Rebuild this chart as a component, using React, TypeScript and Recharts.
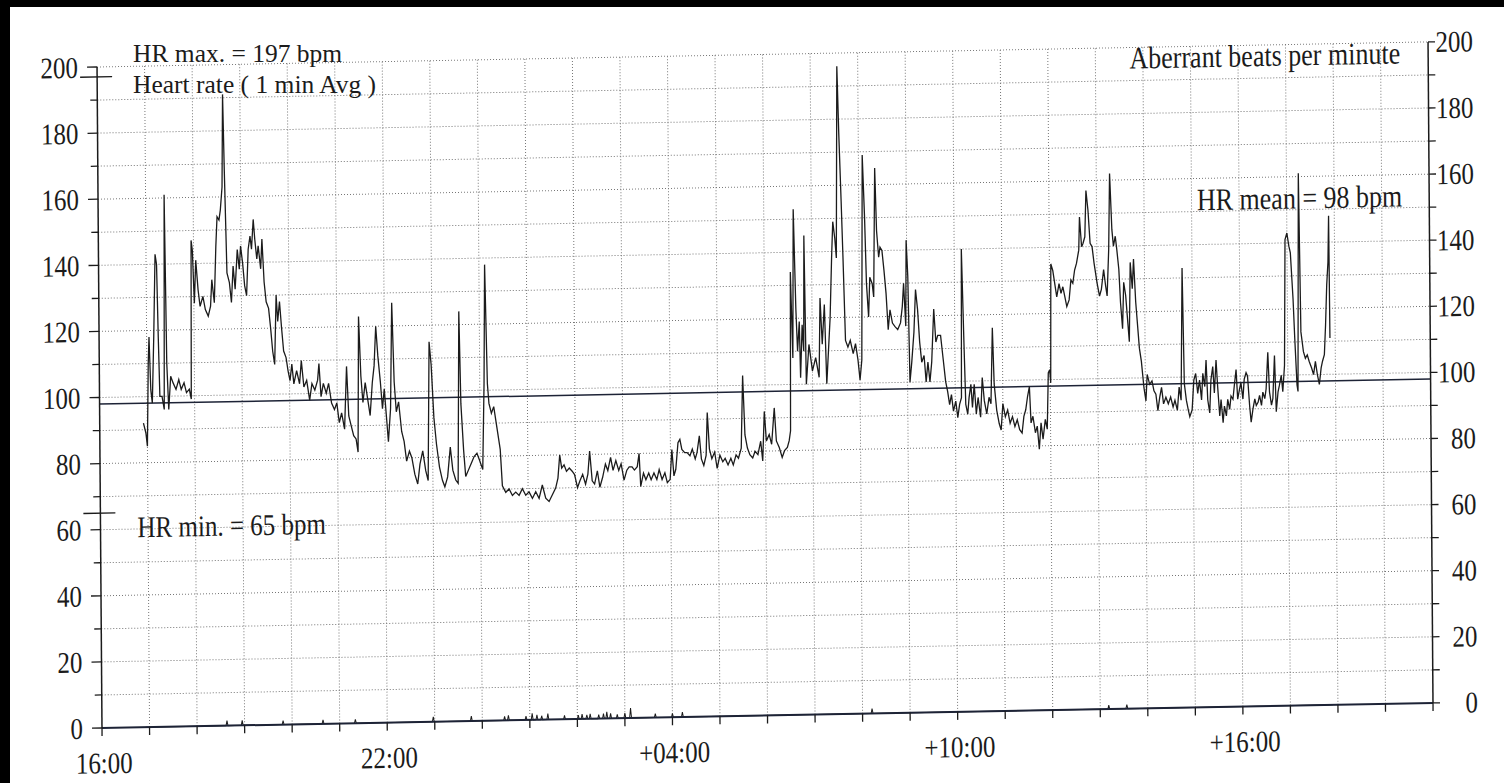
import React from 'react'
import { LineChart, Line, XAxis, YAxis, CartesianGrid, ReferenceLine } from 'recharts'

// time axis is in hours after 16:00 (0 = 16:00, 28 = +20:00)
const eveningHours = [
    0.92, 0.97, 1.0, 1.03, 1.05, 1.08, 1.11, 1.15, 1.19, 1.22,
    1.245, 1.27, 1.315, 1.36, 1.39, 1.42, 1.455, 1.5, 1.55, 1.61,
    1.67, 1.72, 1.78, 1.83, 1.89, 1.93, 1.95, 1.975, 2.01, 2.045,
    2.09, 2.13, 2.19, 2.24, 2.3, 2.35, 2.38, 2.43, 2.47, 2.5,
    2.54, 2.57, 2.61, 2.635, 2.66, 2.7, 2.75, 2.79, 2.83, 2.87,
    2.92, 2.96, 2.99, 3.03, 3.07, 3.11, 3.15, 3.19, 3.22, 3.26,
    3.29, 3.33, 3.36, 3.41, 3.44, 3.48, 3.52, 3.57, 3.61, 3.65,
    3.69, 3.73, 3.76, 3.8, 3.84, 3.88, 3.93, 3.97, 4.01, 4.05,
    4.09, 4.15, 4.21, 4.25, 4.3, 4.36, 4.42, 4.47, 4.53, 4.59,
    4.62, 4.66, 4.71, 4.77, 4.82, 4.88, 4.94, 4.99, 5.04, 5.09,
    5.15, 5.2, 5.24, 5.29, 5.34, 5.39, 5.43, 5.46, 5.5, 5.54,
    5.59, 5.65, 5.69, 5.74, 5.78, 5.82, 5.86, 5.91, 5.95, 5.99,
    6.03, 6.07, 6.12, 6.16, 6.2, 6.24, 6.29, 6.35, 6.4, 6.45,
    6.51, 6.56, 6.62, 6.68, 6.73, 6.79, 6.85, 6.9, 6.94, 6.98,
    7.03, 7.08, 7.14, 7.2, 7.25, 7.31, 7.37, 7.42, 7.48, 7.53,
    7.57, 7.6, 7.65, 7.69, 7.75, 7.81, 7.87, 7.93, 7.98, 8.05,
    8.09, 8.12, 8.16, 8.19, 8.24, 8.29, 8.36, 8.42,
]
const eveningBpm = [
    92, 89, 85, 110, 118, 102, 98, 118, 143, 140,
    118, 100, 100, 96, 161, 110, 96, 106, 104, 102,
    105, 102, 104, 101, 102, 99, 147, 144, 128, 141,
    132, 127, 130, 126, 124, 127, 135, 128, 145, 154,
    153, 156, 163, 191, 168, 137, 134, 128, 139, 132,
    144, 138, 145, 140, 133, 130, 144, 148, 144, 153,
    147, 141, 145, 138, 147, 134, 128, 126, 120, 113,
    109, 130, 122, 128, 120, 113, 111, 107, 104, 109,
    103, 107, 103, 110, 102, 104, 98, 103, 101, 104,
    109, 99, 103, 100, 103, 97, 95, 97, 91, 94,
    89, 108, 93, 90, 87, 86, 82, 123, 105, 97,
    103, 97, 93, 103, 108, 120, 111, 103, 95, 101,
    93, 85, 95, 127, 103, 94, 97, 88, 85, 79,
    82, 80, 75, 72, 78, 82, 76, 73, 115, 108,
    92, 84, 77, 73, 71, 74, 83, 76, 73, 72,
    124, 96, 82, 74, 76, 78, 80, 81, 79, 76,
    102, 138, 102, 96, 93, 95, 88, 82,
]

const nightHours = [
    8.46, 8.53, 8.6, 8.67, 8.74, 8.81, 8.88, 8.95, 9.02, 9.09,
    9.16, 9.23, 9.3, 9.37, 9.44, 9.51, 9.58, 9.63, 9.67, 9.71,
    9.76, 9.81, 9.87, 9.93, 9.98, 10.04, 10.09, 10.15, 10.21, 10.26,
    10.3, 10.35, 10.4, 10.46, 10.51, 10.57, 10.63, 10.68, 10.74, 10.79,
    10.85, 10.91, 10.96, 11.02, 11.08, 11.13, 11.19, 11.24, 11.3, 11.34,
    11.37, 11.43, 11.48, 11.54, 11.59, 11.65, 11.71, 11.76, 11.82, 11.88,
    11.93, 11.99, 12.03, 12.07, 12.11, 12.16, 12.2, 12.24, 12.3, 12.35,
    12.41, 12.46, 12.52, 12.56, 12.61, 12.65, 12.7, 12.75, 12.78, 12.82,
    12.87, 12.93, 12.98, 13.04, 13.1, 13.15, 13.21, 13.27, 13.32, 13.38,
    13.43, 13.49, 13.53, 13.57, 13.62, 13.67, 13.73, 13.78, 13.84, 13.9,
    13.94, 13.98, 14.02, 14.08, 14.13, 14.19, 14.23, 14.29, 14.35, 14.4,
    14.46, 14.5, 14.53, 14.55, 14.57, 14.59, 14.62, 14.66, 14.69, 14.73,
]
const nightBpm = [
    71, 69, 70, 68, 69, 68, 70, 68, 69, 67,
    69, 67, 71, 67, 66, 68, 70, 73, 80, 76,
    77, 75, 76, 75, 74, 70, 72, 74, 71, 74,
    81, 72, 71, 75, 70, 73, 77, 75, 79, 75,
    78, 75, 77, 72, 75, 76, 76, 75, 76, 80,
    70, 74, 72, 74, 72, 74, 72, 75, 72, 74,
    71, 72, 81, 73, 75, 83, 84, 81, 80, 80,
    79, 81, 78, 80, 85, 78, 76, 79, 92, 81,
    78, 80, 75, 79, 77, 78, 76, 78, 76, 79,
    78, 81, 103, 85, 81, 79, 78, 80, 79, 83,
    77, 92, 83, 85, 82, 93, 83, 81, 78, 80,
    81, 83, 86, 134, 121, 108, 153, 123, 110, 119,
]

const morningHours = [
    14.75, 14.79, 14.82, 14.84, 14.87, 14.93, 15.0, 15.07, 15.14, 15.17,
    15.21, 15.26, 15.3, 15.34, 15.38, 15.42, 15.45, 15.49, 15.52, 15.56,
    15.59, 15.63, 15.66, 15.7, 15.75, 15.8, 15.86, 15.91, 15.96, 16.0,
    16.04, 16.08, 16.12, 16.15, 16.19, 16.22, 16.27, 16.3, 16.34, 16.37,
    16.41, 16.44, 16.48, 16.52, 16.56, 16.6, 16.64, 16.69, 16.74, 16.8,
    16.86, 16.9, 16.93, 16.97, 16.99, 17.02, 17.05, 17.09, 17.14, 17.18,
    17.22, 17.26, 17.3, 17.35, 17.39, 17.43, 17.47, 17.51, 17.56, 17.6,
    17.64, 17.7, 17.75, 17.8, 17.84, 17.88, 17.92, 17.96, 18.01, 18.05,
    18.09, 18.13, 18.15, 18.19, 18.22, 18.26, 18.29, 18.33, 18.36, 18.4,
    18.44, 18.48, 18.53, 18.57, 18.61, 18.66, 18.71, 18.75, 18.79, 18.82,
    18.87, 18.92, 18.96, 19.0, 19.05, 19.1, 19.15, 19.2, 19.25, 19.3,
    19.35, 19.4, 19.44, 19.48, 19.52, 19.56, 19.59, 19.63, 19.68, 19.72,
    19.76, 19.8, 19.84, 19.89, 19.93, 19.96, 19.99, 20.01, 20.03, 20.07,
    20.11, 20.15, 20.2, 20.24, 20.28, 20.32, 20.36, 20.41, 20.45, 20.49,
    20.53, 20.57, 20.62, 20.64, 20.68, 20.71, 20.75, 20.78, 20.82, 20.86,
    20.9, 20.94, 21.0, 21.05, 21.09, 21.14, 21.18, 21.21, 21.25, 21.28,
    21.32, 21.35, 21.39, 21.42, 21.46, 21.49, 21.53, 21.56, 21.6, 21.63,
    21.67, 21.7, 21.74, 21.77, 21.81, 21.84, 21.88, 21.92,
]
const morningBpm = [
    102, 118, 110, 145, 100, 112, 104, 108, 102, 126,
    112, 124, 100, 110, 120, 138, 149, 144, 138, 196,
    176, 155, 138, 113, 111, 113, 109, 112, 107, 101,
    107, 169, 150, 130, 120, 132, 130, 126, 165, 146,
    138, 141, 140, 134, 127, 116, 122, 118, 117, 116,
    118, 123, 130, 117, 143, 132, 100, 106, 115, 128,
    122, 112, 106, 108, 100, 106, 100, 106, 122, 112,
    114, 114, 107, 100, 97, 93, 96, 91, 94, 89,
    93, 95, 140, 112, 93, 90, 95, 99, 92, 99,
    90, 95, 89, 101, 94, 90, 95, 93, 116, 99,
    91, 87, 85, 93, 89, 91, 87, 89, 86, 88,
    85, 84, 89, 91, 95, 98, 87, 89, 84, 86,
    79, 87, 82, 88, 85, 102, 103, 99, 135, 133,
    129, 125, 129, 126, 128, 125, 122, 124, 130, 129,
    133, 135, 139, 149, 140, 141, 143, 157, 151, 141,
    140, 135, 129, 125, 127, 133, 128, 125, 139, 162,
    145, 140, 143, 139, 133, 123, 115, 129, 125, 119,
    111, 135, 127, 136, 123, 117, 109, 105,
]

const afternoonHours = [
    21.97, 22.01, 22.04, 22.09, 22.14, 22.18, 22.22, 22.26, 22.3, 22.34,
    22.38, 22.43, 22.48, 22.53, 22.58, 22.62, 22.67, 22.71, 22.75, 22.79,
    22.82, 22.86, 22.9, 22.93, 22.98, 23.02, 23.06, 23.1, 23.14, 23.18,
    23.21, 23.25, 23.28, 23.31, 23.35, 23.38, 23.42, 23.45, 23.49, 23.52,
    23.56, 23.59, 23.63, 23.66, 23.7, 23.73, 23.77, 23.8, 23.84, 23.87,
    23.91, 23.94, 23.98, 24.01, 24.05, 24.08, 24.12, 24.15, 24.19, 24.22,
    24.26, 24.3, 24.33, 24.37, 24.4, 24.44, 24.47, 24.51, 24.54, 24.58,
    24.61, 24.65, 24.68, 24.72, 24.75, 24.79, 24.82, 24.86, 24.89, 24.93,
    24.96, 25.0, 25.04, 25.07, 25.12, 25.15, 25.19, 25.21, 25.25, 25.28,
    25.33, 25.37, 25.41, 25.45, 25.5, 25.54, 25.58, 25.62, 25.66, 25.7,
    25.73, 25.77, 25.8, 25.83, 25.86, 25.88, 25.89,
]
const afternoonBpm = [
    97, 93, 101, 98, 99, 96, 95, 90, 94, 97,
    92, 94, 92, 94, 91, 93, 90, 97, 93, 133,
    98, 93, 90, 88, 90, 99, 101, 95, 99, 93,
    101, 97, 105, 93, 89, 99, 103, 95, 105, 97,
    88, 93, 86, 91, 88, 93, 90, 94, 93, 97,
    102, 93, 96, 98, 93, 99, 101, 100, 91, 86,
    90, 93, 91, 92, 94, 91, 95, 93, 96, 107,
    95, 91, 93, 106, 89, 95, 97, 100, 95, 103,
    141, 143, 139, 137, 123, 111, 97, 95, 161, 113,
    107, 105, 106, 104, 102, 100, 104, 100, 97, 102,
    104, 106, 115, 127, 134, 148, 111,
]

// aberrant beats per minute (right axis), small spikes off the baseline
const aberrantHours = [
    2.63, 2.95, 3.81, 4.65, 5.33, 6.97, 7.77, 8.47, 8.55, 8.92,
    9.05, 9.15, 9.25, 9.38, 9.73, 10.02, 10.1, 10.2, 10.27, 10.45,
    10.55, 10.62, 10.7, 10.84, 11.0, 11.12, 11.64, 12.0, 12.21, 16.2,
    21.18, 21.56,
]
const aberrantCounts = [
    1.5, 1.5, 1.2, 1.2, 1.2, 1.5, 1.5, 1.2, 1.5, 1.2,
    2, 1.5, 1.2, 1.8, 1.2, 1.2, 1.5, 1.2, 1.5, 1.2,
    1.5, 2, 1.5, 1.2, 1.5, 3, 1.2, 1.2, 1.5, 1.5,
    1.2, 1.2,
]

const bpmTicks = [0, 10, 20, 30, 40, 50, 60, 70, 80, 90, 100, 110, 120, 130, 140, 150, 160, 170, 180, 190, 200]
const hourTicks = [0, 1, 2, 3, 4, 5, 6, 7, 8, 9, 10, 11, 12, 13, 14, 15, 16, 17, 18, 19, 20, 21, 22, 23, 24, 25, 26, 27, 28]
const timeLabels: Record<number, string> = { 0: '16:00', 6: '22:00', 12: '+04:00', 18: '+10:00', 24: '+16:00' }

const HR_MEAN = 98
const HR_MIN = 65
const HR_MAX = 197

const zip = (hours: number[], bpm: number[]) => hours.map((h, i) => ({ h, bpm: bpm[i] }))

const heartRate = [
    ...zip(eveningHours, eveningBpm),
    ...zip(nightHours, nightBpm),
    ...zip(morningHours, morningBpm),
    ...zip(afternoonHours, afternoonBpm),
]

const aberrant = [
    { h: eveningHours[0], ab: 0 },
    ...aberrantHours.flatMap((h, i) => [
        { h: h - 0.02, ab: 0 },
        { h, ab: aberrantCounts[i] },
        { h: h + 0.02, ab: 0 },
    ]),
    { h: afternoonHours[afternoonHours.length - 1], ab: 0 },
]

const gridRows = bpmTicks.filter((v) => v > 0)
const gridCols = hourTicks.filter((v) => v > 0 && v < 28)

const serif = "'Liberation Serif', 'Times New Roman', serif"
const ink = '#1b1b1b'
const axisInk = '#1d2336'

function stretchedText(x: number, y: number, text: string | number, anchor: string, size: number, central = true, sy = 1.2) {
    return (
        <text
            transform={`translate(${x},${y}) scale(1,${sy})`}
            textAnchor={anchor}
            dominantBaseline={central ? 'central' : 'auto'}
            fontFamily={serif}
            fontSize={size}
            fill={ink}
        >
            {text}
        </text>
    )
}

function LeftTick(props: any) {
    const { x, y, payload } = props
    const v = payload.value
    if (v === HR_MIN || v === HR_MAX) {
        return <line x1={x - 17} x2={x + 15} y1={y} y2={y} stroke={ink} strokeWidth={1.4} />
    }
    const major = v % 20 === 0
    return (
        <g>
            <line x1={x - (major ? 10 : 7)} x2={x} y1={y} y2={y} stroke={ink} strokeWidth={1.3} />
            {major && stretchedText(x - 19, y, v, 'end', 25)}
        </g>
    )
}

function RightTick(props: any) {
    const { x, y, payload } = props
    const v = payload.value
    const major = v % 20 === 0
    return (
        <g>
            <line x1={x} x2={x + 7} y1={y} y2={y} stroke={ink} strokeWidth={1.3} />
            {major && stretchedText(x + 45, y, v, 'end', 25)}
        </g>
    )
}

function TimeTick(props: any) {
    const { x, y, payload } = props
    const label = timeLabels[payload.value]
    return (
        <g>
            <line x1={x} x2={x} y1={y} y2={y + 8} stroke={ink} strokeWidth={1.3} />
            {label && stretchedText(x + 2, y + 35, label, 'middle', 25)}
        </g>
    )
}

export default function App() {
    return (
        <div style={{ position: 'absolute', left: 0, top: 0, width: 1504, height: 783, background: '#fff', overflow: 'hidden' }}>
            <div
                style={{
                    position: 'absolute',
                    left: 0,
                    top: 0,
                    width: 1504,
                    height: 783,
                    transform: 'skew(0.43deg, -1.08deg)',
                    transformOrigin: '102px 728px',
                }}
            >
                <LineChart width={1504} height={783} margin={{ top: 67, right: 11, bottom: 15, left: 42 }}>
                    <CartesianGrid
                        yAxisId="hr"
                        horizontalValues={gridRows}
                        verticalValues={gridCols}
                        stroke="#777"
                        strokeDasharray="1 2"
                        strokeWidth={1}
                    />
                    <XAxis
                        dataKey="h"
                        type="number"
                        domain={[0, 28]}
                        ticks={hourTicks}
                        interval={0}
                        allowDataOverflow
                        height={40}
                        tickSize={0}
                        tickMargin={0}
                        tickLine={false}
                        tick={<TimeTick />}
                        axisLine={{ stroke: axisInk, strokeWidth: 2 }}
                    />
                    <YAxis
                        yAxisId="hr"
                        domain={[0, 200]}
                        ticks={[...bpmTicks, HR_MIN, HR_MAX]}
                        interval={0}
                        width={60}
                        tickSize={0}
                        tickMargin={0}
                        tickLine={false}
                        tick={<LeftTick />}
                        axisLine={{ stroke: ink, strokeWidth: 1.5 }}
                    />
                    <YAxis
                        yAxisId="ab"
                        orientation="right"
                        domain={[0, 200]}
                        ticks={bpmTicks}
                        interval={0}
                        width={60}
                        tickSize={0}
                        tickMargin={0}
                        tickLine={false}
                        tick={<RightTick />}
                        axisLine={{ stroke: ink, strokeWidth: 1.5 }}
                    />
                    <ReferenceLine yAxisId="hr" y={HR_MEAN} stroke={axisInk} strokeWidth={1.5} />
                    <Line
                        yAxisId="ab"
                        data={aberrant}
                        dataKey="ab"
                        type="linear"
                        stroke={ink}
                        strokeWidth={1}
                        dot={false}
                        isAnimationActive={false}
                    />
                    <Line
                        yAxisId="hr"
                        data={heartRate}
                        dataKey="bpm"
                        type="linear"
                        stroke={ink}
                        strokeWidth={1.3}
                        dot={false}
                        isAnimationActive={false}
                    />
                </LineChart>
                <svg width={1504} height={783} style={{ position: 'absolute', left: 0, top: 0, pointerEvents: 'none' }}>
                    {stretchedText(139, 538, 'HR min. = 65 bpm', 'start', 25, false)}
                    {stretchedText(1405, 88, 'Aberrant beats per minute', 'end', 26, false)}
                    {stretchedText(1406, 231, 'HR mean = 98 bpm', 'end', 26, false)}
                </svg>
            </div>
            {/* header lines kept upright so the two rows stay clear of each other */}
            <svg width={1504} height={120} style={{ position: 'absolute', left: 0, top: 0, pointerEvents: 'none' }}>
                <text x={133} y={62} fontFamily={serif} fontSize={25.5} fill={ink}>HR max. = 197 bpm</text>
                <text x={133} y={93} fontFamily={serif} fontSize={25.5} fill={ink}>Heart rate ( 1 min Avg )</text>
            </svg>
            <div style={{ position: 'absolute', left: 0, top: 0, width: 1504, height: 7, background: '#000' }} />
            <div style={{ position: 'absolute', left: 0, top: 0, width: 10, height: 783, background: '#000' }} />
        </div>
    )
}
